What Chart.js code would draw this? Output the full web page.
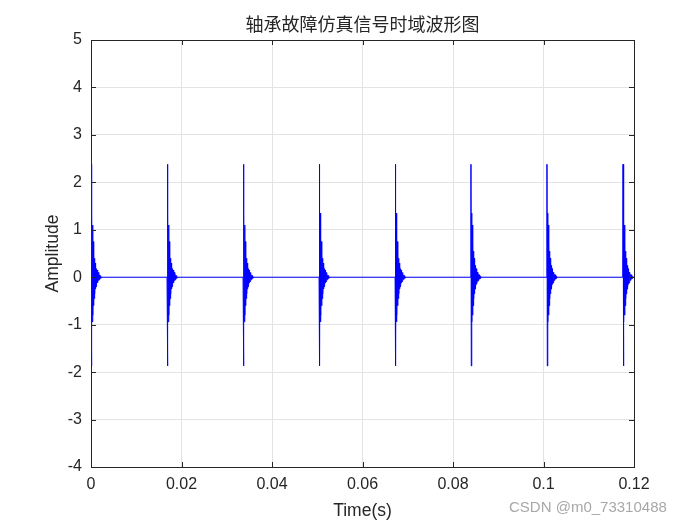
<!DOCTYPE html>
<html>
<head>
<meta charset="utf-8">
<script src="https://cdn.jsdelivr.net/npm/chart.js@4.4.1/dist/chart.umd.min.js"></script>
<style>
  html, body { margin: 0; padding: 0; background: #fff; }
  #wrap { position: relative; width: 700px; height: 525px; }
  #mark { position: absolute; left: 509px; top: 498px; font: 15px "Liberation Sans", Arial, sans-serif; color: #a8a8a8; }
</style>
</head>
<body>
<div id="wrap">
  <canvas id="chart" width="700" height="525"></canvas>
  <div id="mark">CSDN @m0_73310488</div>
</div>
<script>
// Instantes de cada impacto (s)
const impactTimes = [0, 0.0168, 0.0336, 0.0504, 0.0672, 0.0839, 0.1007, 0.1175];
const pulseAmps = [0, 2.38, -1.87, 1.35, -0.94, 1.1, -0.8, 0.75, -0.6, 0.55, -0.45,
  0.4, -0.35, 0.3, -0.25, 0.25, -0.2, 0.18, -0.15, 0.15, -0.12, 0.11, -0.09,
  0.1, -0.07, 0.06, -0.05, 0.05, -0.04, 0.03, -0.025, 0.02, -0.01, 0.005, 0];
const sampleStep = 0.00007; // separación entre muestras (s)
const xTicks = [0, 0.02, 0.04, 0.06, 0.08, 0.1, 0.12];
const yTicks = [-4, -3, -2, -1, 0, 1, 2, 3, 4, 5];

const signal = [];
impactTimes.forEach(t0 => {
  pulseAmps.forEach((a, k) => signal.push({ x: t0 + k * sampleStep, y: a }));
});
signal.push({ x: 0.12, y: 0 });

const axisColor = '#262626';
const sansFamily = '"Liberation Sans", Arial, sans-serif';
const tickFont = { family: sansFamily, size: 16 };
const labelFont = { family: sansFamily, size: 17.5 };

// Caja y marcas hacia dentro, estilo MATLAB
const boxPlugin = {
  id: 'matlabBox',
  afterDraw(chart) {
    const { ctx, chartArea: a, scales: { x, y } } = chart;
    const len = 5;
    ctx.save();
    ctx.strokeStyle = axisColor;
    ctx.lineWidth = 1;
    ctx.beginPath();
    x.ticks.forEach(t => {
      const px = Math.round(x.getPixelForValue(t.value)) + 0.5;
      ctx.moveTo(px, a.bottom); ctx.lineTo(px, a.bottom - len);
      ctx.moveTo(px, a.top); ctx.lineTo(px, a.top + len);
    });
    y.ticks.forEach(t => {
      const py = Math.round(y.getPixelForValue(t.value)) + 0.5;
      ctx.moveTo(a.left, py); ctx.lineTo(a.left + len, py);
      ctx.moveTo(a.right, py); ctx.lineTo(a.right - len, py);
    });
    ctx.stroke();
    ctx.strokeRect(Math.round(a.left) + 0.5, Math.round(a.top) + 0.5,
      Math.round(a.right - a.left), Math.round(a.bottom - a.top));
    ctx.restore();
  }
};

new Chart(document.getElementById('chart'), {
  type: 'line',
  data: {
    datasets: [{
      data: signal,
      borderColor: '#0000ff',
      borderWidth: 1,
      pointRadius: 0,
      tension: 0,
      fill: false
    }]
  },
  options: {
    responsive: false,
    animation: false,
    parsing: false,
    layout: { padding: { left: 0, right: 66, top: 0, bottom: 0 } },
    plugins: {
      legend: { display: false },
      tooltip: { enabled: false },
      title: {
        display: true,
        fullSize: false,
        text: '轴承故障仿真信号时域波形图',
        color: axisColor,
        font: { family: '"Noto Sans CJK SC", sans-serif', size: 18, weight: 'normal', lineHeight: 20 / 18 },
        padding: { top: 14, bottom: 6 }
      }
    },
    scales: {
      x: {
        type: 'linear',
        min: 0,
        max: 0.12,
        afterBuildTicks: s => { s.ticks = xTicks.map(v => ({ value: v })); },
        afterFit: s => { s.height = 58; },
        grid: { color: '#e3e3e3', drawTicks: false },
        border: { display: false },
        ticks: {
          color: axisColor,
          font: tickFont,
          padding: 8,
          maxRotation: 0,
          callback: v => String(+Number(v).toFixed(2))
        },
        title: {
          display: true,
          text: 'Time(s)',
          color: axisColor,
          font: labelFont,
          padding: { top: 0, bottom: 3 }
        }
      },
      y: {
        type: 'linear',
        min: -4,
        max: 5,
        afterBuildTicks: s => { s.ticks = yTicks.map(v => ({ value: v })); },
        afterFit: s => { s.width = 91; },
        grid: { color: '#e3e3e3', drawTicks: false },
        border: { display: false },
        ticks: {
          color: axisColor,
          font: tickFont,
          padding: 9,
          callback: v => String(v)
        },
        title: {
          display: true,
          text: 'Amplitude',
          color: axisColor,
          font: labelFont,
          padding: { top: 43, bottom: 0 }
        }
      }
    }
  },
  plugins: [boxPlugin]
});
</script>
</body>
</html>
